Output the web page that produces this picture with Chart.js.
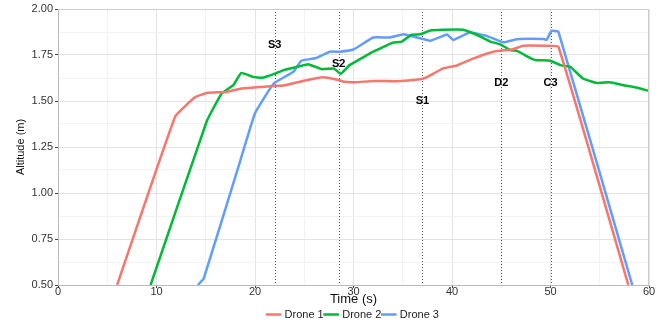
<!DOCTYPE html>
<html>
<head>
<meta charset="utf-8">
<script src="https://cdn.jsdelivr.net/npm/chart.js@4.4.1/dist/chart.umd.min.js"></script>
<style>
  html, body { margin: 0; padding: 0; background: #fff; }
  #wrap { width: 667px; height: 327px; }
</style>
</head>
<body>
<div id="wrap"><canvas id="altitude-chart" width="667" height="327"></canvas></div>
<script>
// Altitude traces (time in s, altitude in m)
const drone1Time = [6.0, 11.9, 13.9, 15.1, 17.1, 18.5, 21.9, 22.9, 25.2, 26.9, 28.6, 29.0, 30.2, 32.0, 34.4, 36.8, 37.4, 39.1, 40.5, 42.2, 44.2, 46.2, 47.2, 49.3, 50.8, 57.9];
const drone1Alt  = [0.50, 1.416, 1.52, 1.544, 1.549, 1.567, 1.582, 1.584, 1.613, 1.629, 1.613, 1.604, 1.602, 1.609, 1.607, 1.618, 1.628, 1.677, 1.693, 1.732, 1.768, 1.781, 1.80, 1.80, 1.795, 0.50];

const drone2Time = [9.4, 15.1, 16.6, 17.8, 18.6, 19.8, 20.7, 21.9, 22.9, 24.6, 25.4, 26.8, 28.0, 28.7, 29.6, 32.0, 34.0, 34.9, 35.9, 36.8, 37.8, 39.1, 41.1, 42.5, 43.9, 44.9, 45.9, 46.6, 48.0, 48.6, 50.0, 51.0, 52.0, 53.3, 54.7, 56.0, 57.4, 58.7, 60.0];
const drone2Alt  = [0.50, 1.39, 1.54, 1.586, 1.653, 1.631, 1.626, 1.646, 1.668, 1.69, 1.70, 1.673, 1.677, 1.648, 1.695, 1.768, 1.817, 1.823, 1.86, 1.863, 1.883, 1.887, 1.887, 1.86, 1.823, 1.808, 1.777, 1.772, 1.732, 1.722, 1.719, 1.695, 1.686, 1.622, 1.598, 1.602, 1.586, 1.573, 1.555];

const drone3Time = [14.2, 14.8, 18.5, 20.0, 21.9, 23.9, 24.7, 26.1, 27.6, 28.6, 30.0, 32.0, 33.7, 35.1, 36.1, 37.8, 39.5, 40.1, 41.8, 43.5, 45.2, 46.6, 49.3, 49.6, 50.1, 50.8, 58.3];
const drone3Alt  = [0.50, 0.536, 1.175, 1.434, 1.595, 1.659, 1.719, 1.732, 1.768, 1.768, 1.78, 1.845, 1.845, 1.863, 1.85, 1.828, 1.861, 1.832, 1.872, 1.854, 1.819, 1.836, 1.837, 1.832, 1.881, 1.877, 0.50];

// Event markers (vertical dotted lines)
const eventNames  = ['S3', 'S2', 'S1', 'D2', 'C3'];
const eventTimes  = [22, 28.5, 37, 45, 50];
const eventLabelY = [1.805, 1.70, 1.50, 1.60, 1.60];

const seriesNames  = ['Drone 1', 'Drone 2', 'Drone 3'];
const seriesColors = ['#F8766D', '#00BA38', '#619CFF'];

function toPoints(xs, ys) {
    return xs.map((x, i) => ({ x: x, y: ys[i] }));
}

const FONT = 'Liberation Sans, Arial, sans-serif';

function isMajorY(v) {
    return Math.abs(v * 4 - Math.round(v * 4)) < 1e-6;
}

// Dotted event lines, labels and the plot frame
const eventPlugin = {
    id: 'events',
    beforeDatasetsDraw(chart) {
        const ctx = chart.ctx;
        const area = chart.chartArea;
        const xs = chart.scales.x;
        ctx.save();
        ctx.strokeStyle = '#555';
        ctx.lineWidth = 1;
        ctx.setLineDash([1, 2]);
        eventTimes.forEach(t => {
            const px = Math.round(xs.getPixelForValue(t)) + 0.5;
            ctx.beginPath();
            ctx.moveTo(px, area.top);
            ctx.lineTo(px, area.bottom);
            ctx.stroke();
        });
        ctx.restore();
    },
    afterDatasetsDraw(chart) {
        const ctx = chart.ctx;
        const area = chart.chartArea;
        const xs = chart.scales.x, ys = chart.scales.y;
        ctx.save();
        ctx.fillStyle = '#000';
        ctx.font = 'bold 11px ' + FONT;
        ctx.textAlign = 'center';
        ctx.textBaseline = 'middle';
        eventNames.forEach((name, i) => {
            ctx.fillText(name, xs.getPixelForValue(eventTimes[i]), ys.getPixelForValue(eventLabelY[i]));
        });
        // light frame on top and right
        ctx.strokeStyle = '#cccccc';
        ctx.lineWidth = 1;
        ctx.beginPath();
        ctx.moveTo(area.left, area.top + 0.5);
        ctx.lineTo(area.right - 0.5, area.top + 0.5);
        ctx.lineTo(area.right - 0.5, area.bottom);
        ctx.stroke();
        ctx.restore();
    }
};

function createAltitudeChart() {
    const ctx = document.getElementById('altitude-chart').getContext('2d');
    const times = [drone1Time, drone2Time, drone3Time];
    const alts = [drone1Alt, drone2Alt, drone3Alt];

    const data = {
        datasets: seriesNames.map((name, i) => ({
            label: name,
            data: toPoints(times[i], alts[i]),
            borderColor: seriesColors[i],
            backgroundColor: seriesColors[i],
            borderWidth: 2.5,
            pointRadius: 0,
            tension: 0.1,
            fill: false
        }))
    };

    const config = {
        type: 'line',
        data: data,
        options: {
            responsive: false,
            animation: false,
            layout: { padding: { top: 9, right: 18, left: 14, bottom: -3 } },
            plugins: {
                legend: {
                    position: 'bottom',
                    fullSize: false,
                    labels: {
                        usePointStyle: true,
                        pointStyle: 'line',
                        boxWidth: 16,
                        padding: 2,
                        color: '#222',
                        font: { family: FONT, size: 11 }
                    }
                },
                tooltip: { enabled: false }
            },
            scales: {
                x: {
                    type: 'linear',
                    min: 0,
                    max: 60,
                    ticks: {
                        stepSize: 5,
                        color: '#333',
                        font: { family: FONT, size: 11 },
                        padding: -3,
                        maxRotation: 0,
                        callback: v => (v % 10 === 0 ? v : '')
                    },
                    grid: {
                        color: c => (c.tick && c.tick.value % 10 === 0 ? '#e3e3e3' : '#f2f2f2'),
                        tickColor: c => (c.tick && c.tick.value % 10 === 0 ? '#444' : 'rgba(0,0,0,0)'),
                        tickLength: 3
                    },
                    border: { color: '#bbbbbb' },
                    title: {
                        display: true,
                        text: 'Time (s)',
                        color: '#111',
                        font: { family: FONT, size: 13 },
                        padding: { top: 0, bottom: 0 }
                    },
                    afterFit: scale => { scale.height = 22; }
                },
                y: {
                    min: 0.5,
                    max: 2.0,
                    ticks: {
                        stepSize: 0.125,
                        color: '#333',
                        font: { family: FONT, size: 11 },
                        padding: 2,
                        callback: v => (isMajorY(v) ? v.toFixed(2) : '')
                    },
                    grid: {
                        color: c => (c.tick && isMajorY(c.tick.value) ? '#e3e3e3' : '#f2f2f2'),
                        tickColor: c => (c.tick && isMajorY(c.tick.value) ? '#444' : 'rgba(0,0,0,0)'),
                        tickLength: 3
                    },
                    border: { color: '#bbbbbb' },
                    title: {
                        display: true,
                        text: 'Altitude (m)',
                        color: '#111',
                        font: { family: FONT, size: 11 },
                        padding: { top: 0, bottom: 0 }
                    },
                    afterFit: scale => { scale.width = 44; }
                }
            }
        },
        plugins: [eventPlugin]
    };

    new Chart(ctx, config);
}

createAltitudeChart();
</script>
</body>
</html>
